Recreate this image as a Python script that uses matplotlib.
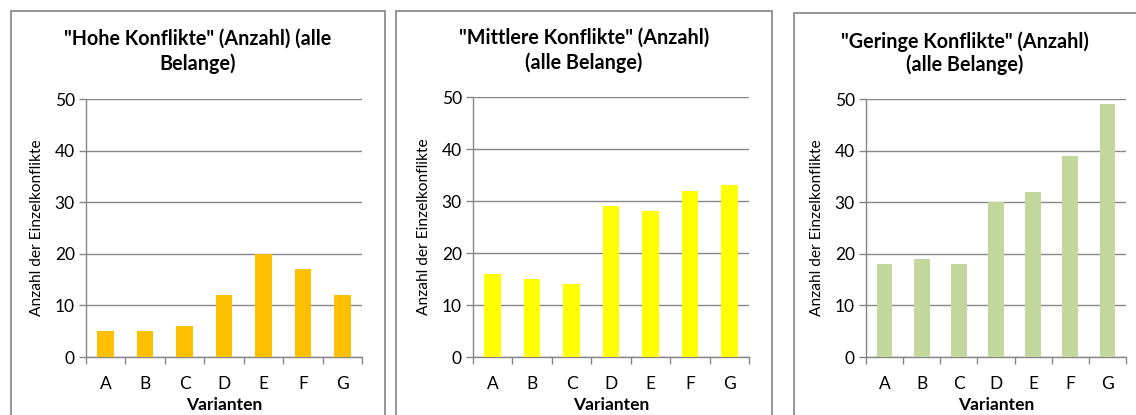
import numpy as np
import matplotlib
matplotlib.use('Agg')
import matplotlib.pyplot as plt
from matplotlib.patches import Rectangle

plt.rcParams['font.family'] = ['Lato', 'DejaVu Sans']

# conflict counts per variant
varianten = ['A', 'B', 'C', 'D', 'E', 'F', 'G']
hohe = [5, 5, 6, 12, 20, 17, 12]
mittlere = [16, 15, 14, 29, 28, 32, 33]
geringe = [18, 19, 18, 30, 32, 39, 49]

titles = ['"Hohe Konflikte" (Anzahl) (alle\nBelange)',
          '"Mittlere Konflikte" (Anzahl)\n(alle Belange)',
          '"Geringe Konflikte" (Anzahl)\n(alle Belange)']
colors = ['#FFC000', '#FFFF00', '#C3D69B']
series = [hohe, mittlere, geringe]

W, H = 1136, 415
fig = plt.figure(figsize=(W/100, H/100), dpi=100)

# pixel boxes: chart frame (x0, x1, y0) and plot area (x0, x1, y0, y1)
frames = [(11, 385, 11), (396, 772, 11), (794, 1140, 13)]
plots = [(86, 362, 99, 357), (473, 749, 97, 357), (866, 1126, 99, 357)]
title_y = [(39, 64), (38, 63), (42, 65)]

grid_col = '#868686'

for i in range(3):
    fx0, fx1, fy0 = frames[i]
    fig.patches.append(Rectangle((fx0/W, -0.1), (fx1-fx0)/W, 1.1 - fy0/H,
                                 transform=fig.transFigure, fill=False,
                                 edgecolor='#8c8c8c', linewidth=1.3))
    px0, px1, py0, py1 = plots[i]
    ax = fig.add_axes([px0/W, 1 - py1/H, (px1-px0)/W, (py1-py0)/H])
    x = np.arange(len(varianten))
    ax.bar(x, series[i], width=0.42, color=colors[i], zorder=3)
    ax.set_xlim(-0.5, len(varianten) - 0.5)
    ax.set_ylim(0, 50)
    ax.set_yticks([0, 10, 20, 30, 40, 50])
    ax.yaxis.grid(True, color=grid_col, linewidth=1.0, zorder=0)
    ax.set_axisbelow(True)
    ax.set_xticks(x)
    ax.set_xticklabels(varianten, fontsize=12.5)
    ax.set_xticks(np.arange(len(varianten) + 1) - 0.5, minor=True)
    ax.tick_params(axis='x', which='major', length=0, pad=14)
    ax.tick_params(axis='x', which='minor', length=5, color=grid_col, width=1.0)
    ax.tick_params(axis='y', length=5, color=grid_col, width=1.0, labelsize=12.5, pad=3)
    for s in ['top', 'right']:
        ax.spines[s].set_visible(False)
    for s in ['left', 'bottom']:
        ax.spines[s].set_color(grid_col)
        ax.spines[s].set_linewidth(1.0)
    ax.set_xlabel('Varianten', fontsize=12.5, fontweight='bold', labelpad=3)
    ax.set_ylabel('Anzahl der Einzelkonflikte', fontsize=11.2, labelpad=8)
    cx = (fx0 + fx1) / 2 if i < 2 else (fx0 + fx1 - 4) / 2
    l1, l2 = titles[i].split('\n')
    fig.text(cx/W, 1 - title_y[i][0]/H, l1, ha='center', va='center',
             fontsize=14.2, fontweight='bold')
    fig.text(cx/W, 1 - title_y[i][1]/H, l2, ha='center', va='center',
             fontsize=14.2, fontweight='bold')

plt.savefig('out.png', dpi=100)
